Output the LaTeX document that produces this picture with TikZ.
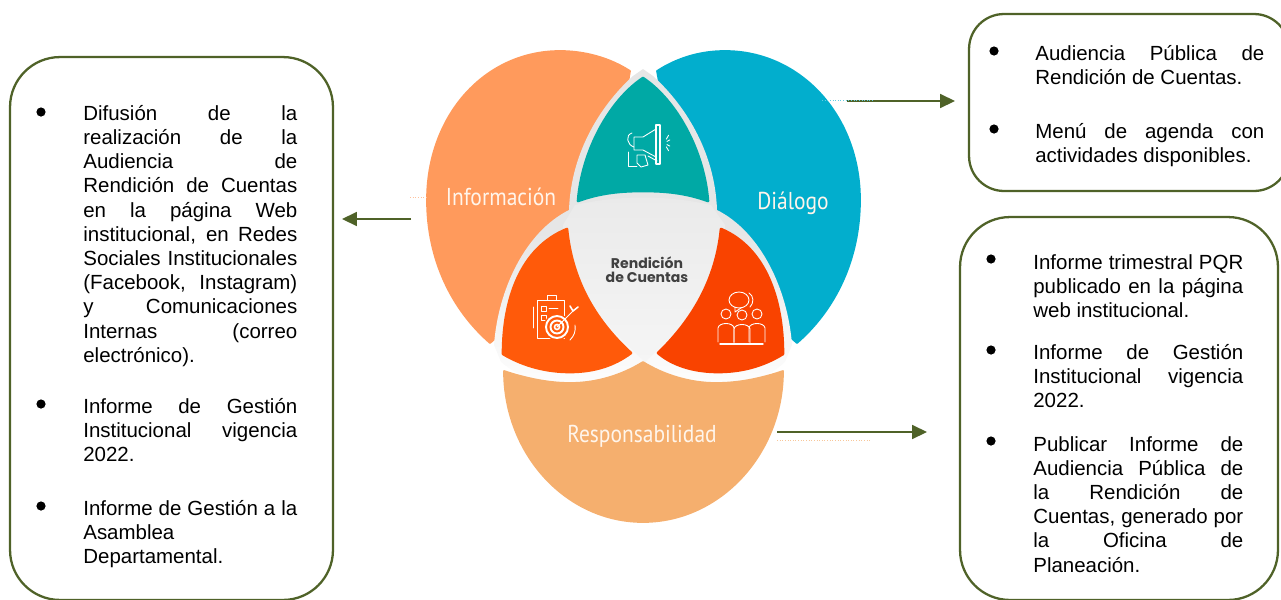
\documentclass[tikz,border=0pt]{standalone}
\usepackage{fontspec}
\setmainfont{Liberation Sans}
\newfontfamily\labelfont[FakeStretch=0.88]{PT Sans}
\newfontfamily\centerfont{Poppins}
\usetikzlibrary{arrows.meta}
\definecolor{olive}{RGB}{79, 98, 40}
\definecolor{info}{RGB}{255, 154, 92}
\definecolor{dialog}{RGB}{2, 174, 205}
\definecolor{resp}{RGB}{245, 175, 110}
\definecolor{teal}{RGB}{0, 169, 165}
\definecolor{redleft}{RGB}{255, 90, 10}
\definecolor{redright}{RGB}{249, 67, 0}
\definecolor{band}{RGB}{230, 230, 230}
\definecolor{coretop}{RGB}{234, 234, 234}
\definecolor{corebottom}{RGB}{245, 245, 245}
\definecolor{lobetext}{RGB}{255, 245, 235}
\tikzset{
  panel/.style={draw=olive, line width=1.3pt, rounded corners=1cm, inner sep=0pt},
  itemtext/.style={anchor=north west, inner sep=0pt, align=justify, font=\fontsize{11.65}{13.76}\selectfont},
  lobelabel/.style={text=lobetext, font=\labelfont\fontsize{13.9}{16}\selectfont},
  flow/.style={draw=olive, line width=0.85pt, -{Triangle[length=8.5pt, width=8pt]}},
  icon/.style={draw=white, line width=0.5pt, line join=round, line cap=round}
}

\begin{document}
\begin{tikzpicture}[x=0.02cm, y=-0.02cm]

  \useasboundingbox (0, 0) rectangle (1281, 599);
  \clip (0, 0) rectangle (1281, 599);

  \fill[info, draw=info, line width=1pt, line join=round] (630, 71) .. controls (610, 58) and (585, 51) .. (560, 51)
    .. controls (485, 51) and (427, 115) .. (427, 200) .. controls (427, 260) and (452, 310) .. (490, 343)
    -- (600, 250) -- cycle;
  \fill[dialog, draw=dialog, line width=1pt, line join=round] (657, 71) .. controls (677, 58) and (700, 51) .. (725, 51)
    .. controls (800, 51) and (860, 115) .. (860, 200) .. controls (860, 260) and (835, 310) .. (797, 343)
    -- (690, 250) -- cycle;

  \shade[top color=band, bottom color=white, middle color=band] (643, 69) -- (633, 76) .. controls (603, 103) and (571, 150) .. (569, 210)
    .. controls (525, 232) and (498, 290) .. (494, 345) -- (501, 362)
    .. controls (540, 395) and (600, 395) .. (643, 375) .. controls (690, 395) and (750, 395) .. (785, 362)
    -- (792, 345) .. controls (788, 290) and (761, 232) .. (717, 210)
    .. controls (715, 150) and (683, 103) .. (653, 76) -- cycle;
  \shade[top color=coretop, bottom color=corebottom] (575, 205) .. controls (620, 195) and (666, 195) .. (711, 205) -- (725, 225)
    .. controls (722, 280) and (690, 320) .. (645, 362) .. controls (600, 320) and (566, 280) .. (563, 225) -- cycle;

  \fill[teal, draw=teal, line width=1.5pt, line join=round] (643, 78) .. controls (610, 100) and (582, 150) .. (578, 201)
    .. controls (600, 193) and (620, 191) .. (643, 191) .. controls (666, 191) and (686, 193) .. (708, 201)
    .. controls (704, 150) and (676, 100) .. (643, 78) -- cycle;
  \fill[redleft, draw=redleft, line width=1.5pt, line join=round] (567, 229) .. controls (520, 248) and (503, 300) .. (503, 354)
    .. controls (525, 367) and (548, 372) .. (570, 372) .. controls (595, 372) and (615, 365) .. (631, 353)
    .. controls (595, 320) and (572, 280) .. (567, 229) -- cycle;
  \fill[redright, draw=redright, line width=1.5pt, line join=round] (721, 229) .. controls (766, 248) and (783, 300) .. (783, 354)
    .. controls (762, 367) and (740, 372) .. (718, 372) .. controls (693, 372) and (672, 365) .. (658, 353)
    .. controls (692, 320) and (716, 280) .. (721, 229) -- cycle;

  \fill[resp, draw=resp, line width=1pt, line join=round] (504, 371) .. controls (525, 378) and (548, 383) .. (570, 383)
    .. controls (597, 383) and (622, 375) .. (643, 362) .. controls (664, 375) and (690, 383) .. (716, 383)
    .. controls (740, 383) and (762, 378) .. (783, 371) .. controls (783, 454) and (720, 522) .. (643, 522)
    .. controls (566, 522) and (504, 454) .. (504, 371) -- cycle;

  \node[lobelabel] (infolabel) at (501, 197) {Información};
  \node[lobelabel] (dialoglabel) at (793, 203) {Diálogo};
  \node[lobelabel] (resplabel) at (642, 436) {Responsabilidad};
  \node[text=black!75, align=center, font=\centerfont\bfseries\fontsize{8}{8}\selectfont] (corelabel) at (647, 270) {Rendición\\de Cuentas};

  % megaphone
  \draw[icon, line width=0.8pt] (656, 125) -- (656, 164) -- (660, 164) -- (660, 125) -- cycle;
  \draw[icon] (656, 129) -- (643, 137) -- (634, 137) -- (634, 150) -- (643, 150) -- (656, 157);
  \draw[icon] (632, 133) .. controls (625, 135) and (627, 145) .. (634, 147);
  \draw[icon] (628, 152) -- (628, 166) -- (637, 166);
  \draw[icon] (637, 155) -- (645, 155) -- (648, 165) -- (641, 167) -- (637, 163) -- cycle;
  \draw[icon] (648, 156) -- (657, 161);
  \foreach \a in {-40, -15, 15, 40} {
    \draw[icon] ({664 + 3 * cos(\a)}, {143 + 6 * sin(\a)}) -- ({664 + 6 * cos(\a)}, {143 + 12 * sin(\a)});
  }

  % target
  \draw[icon] (537, 300) rectangle (564, 338);
  \draw[icon] (547, 300) -- (547, 295) -- (556, 295) -- (556, 300);
  \draw[icon] (541, 306) rectangle (546, 311);
  \draw[icon] (541, 315) rectangle (546, 320);
  \draw[icon] (549, 308) -- (558, 308);
  \draw[icon] (533, 307) -- (533, 328);
  \fill[redleft] (557, 327) circle (13.5);
  \draw[white, line width=1.1pt] (557, 327) circle (11);
  \draw[white, line width=1.1pt] (557, 327) circle (6.5);
  \draw[white, line width=0.9pt] (557, 327) circle (2.5);
  \draw[icon] (557, 327) -- (573, 311);
  \draw[icon, line width=0.9pt] (570, 306) -- (573, 311) -- (578, 307);
  \draw[icon] (575, 325) .. controls (576, 331) and (574, 336) .. (570, 340);

  % people
  \draw[icon] (739, 300) ellipse (10 and 8);
  \draw[icon] (735, 307) -- (735, 312) -- (741, 308);
  \draw[icon] (749, 293) .. controls (754, 296) and (754, 303) .. (750, 307);
  \foreach \x/\y in {726/314, 742/315, 757/314} {
    \draw[icon] (\x, \y) circle (5);
    \draw[icon] ({\x - 8}, {\y + 28}) -- ({\x - 8}, {\y + 14}) .. controls ({\x - 7}, {\y + 8}) and ({\x + 7}, {\y + 8}) .. ({\x + 8}, {\y + 14}) -- ({\x + 8}, {\y + 28});
  }
  \draw[icon, line width=0.8pt] (720, 344) -- (763, 344);

  \node[panel, minimum width=6.46cm, minimum height=10.86cm] (leftbox) at (171.5, 328.5) {};
  \node[panel, minimum width=6.4cm, minimum height=3.54cm, rounded corners=0.7cm] (topbox) at (1129, 102.5) {};
  \node[panel, minimum width=6.36cm, minimum height=7.66cm] (rightbox) at (1119, 408.5) {};

  \foreach \x/\y in {41/112, 41/404, 41/506, 994/51, 994/129, 991/259, 991/350, 991/441} {
    \fill[black] (\x, \y) circle (4.6);
  }

  \node[itemtext, text width=4.28cm] (difusion) at (83, 105) {Difusión de la\linebreak realización de la\linebreak Audiencia de\linebreak Rendición de Cuentas\linebreak en la página Web\linebreak institucional, en Redes\linebreak Sociales Institucionales\linebreak (Facebook, Instagram)\linebreak y Comunicaciones\linebreak Internas (correo\linebreak electrónico).};
  \node[itemtext, text width=4.28cm] (gestion) at (83, 398) {Informe de Gestión\linebreak Institucional vigencia\linebreak 2022.};
  \node[itemtext, text width=4.28cm] (asamblea) at (83, 500) {Informe de Gestión a la\linebreak Asamblea\linebreak Departamental.};

  \node[itemtext, text width=4.58cm] (audiencia) at (1035, 45) {Audiencia Pública de\linebreak Rendición de Cuentas.};
  \node[itemtext, text width=4.58cm] (agenda) at (1035, 123) {Menú de agenda con\linebreak actividades disponibles.};

  \node[itemtext, text width=4.2cm] (trimestral) at (1033, 254) {Informe trimestral PQR\linebreak publicado en la página\linebreak web institucional.};
  \node[itemtext, text width=4.2cm] (vigencia) at (1033, 344) {Informe de Gestión\linebreak Institucional vigencia\linebreak 2022.};
  \node[itemtext, text width=4.2cm] (publicar) at (1033, 436) {Publicar Informe de\linebreak Audiencia Pública de\linebreak la Rendición de\linebreak Cuentas, generado por\linebreak la Oficina de\linebreak Planeación.};

  \coordinate (infoend) at (411, 219);
  \coordinate (infotip) at (342, 219);
  \coordinate (dialogend) at (847, 101);
  \coordinate (dialogtip) at (955, 101);
  \coordinate (respend) at (777, 432);
  \coordinate (resptip) at (927, 432);
  \draw[flow] (infoend) -- (infotip);
  \draw[flow] (dialogend) -- (dialogtip);
  \draw[flow] (respend) -- (resptip);

  \draw[info!60, densely dotted, line width=0.5pt] (410, 197) -- (427, 197);
  \draw[dialog!60, densely dotted, line width=0.5pt] (822, 100) -- (874, 100);
  \draw[resp!70, densely dotted, line width=0.5pt] (777, 440) -- (871, 440);

\end{tikzpicture}
\end{document}
